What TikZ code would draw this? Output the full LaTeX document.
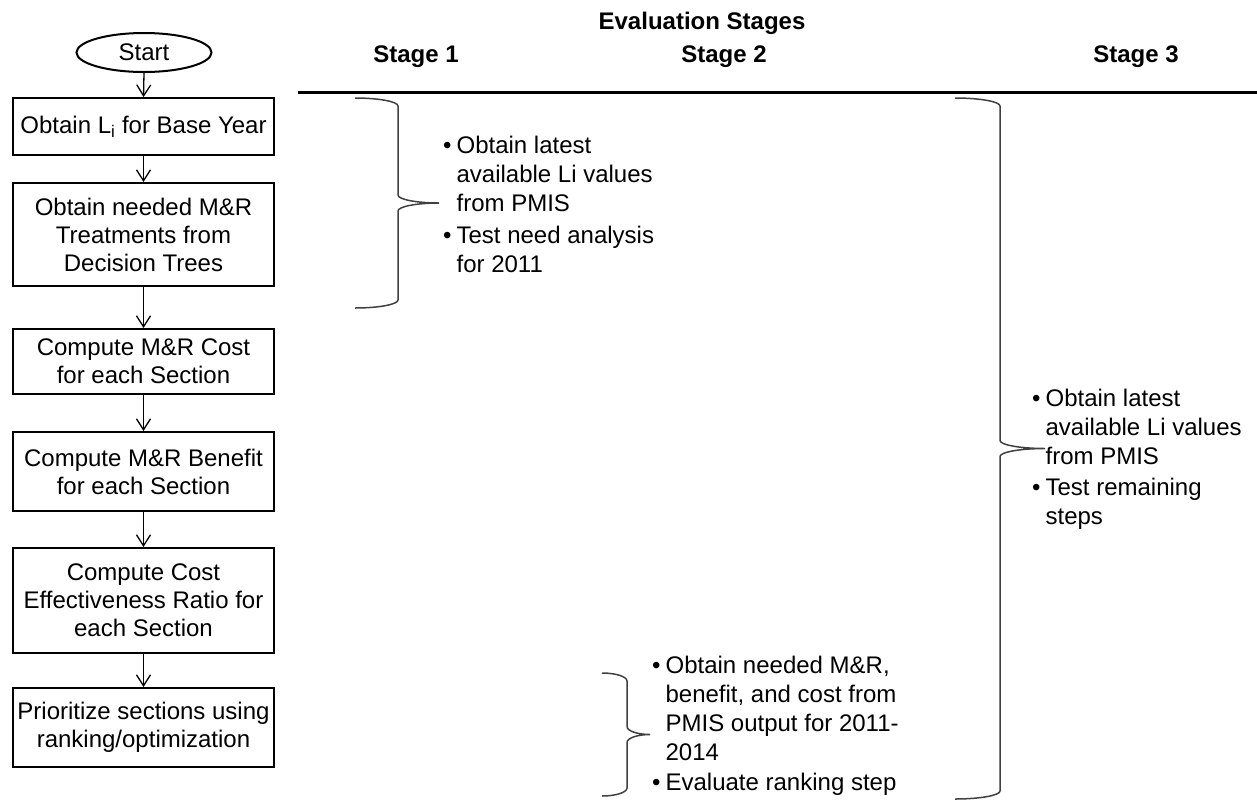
\documentclass[tikz,border=0pt]{standalone}
\usepackage{fontspec}
\setmainfont{Liberation Sans}
\usetikzlibrary{arrows.meta,shapes.geometric}
\newcommand\mybrace[6]{% x0 xs xt y0 y1 r
  \draw[bracestyle] (#1,#4) .. controls ({#1+0.55*(#2-#1)},#4) and (#2,{#4+0.45*#6}) .. (#2,{#4+#6})
    -- (#2,{(#4+#5)/2-#6})
    .. controls (#2,{(#4+#5)/2-0.45*#6}) and ({#3-0.55*(#3-#2)},{(#4+#5)/2}) .. (#3,{(#4+#5)/2})
    .. controls ({#3-0.55*(#3-#2)},{(#4+#5)/2}) and (#2,{(#4+#5)/2+0.45*#6}) .. (#2,{(#4+#5)/2+#6})
    -- (#2,{#5-#6})
    .. controls (#2,{#5-0.45*#6}) and ({#1+0.55*(#2-#1)},#5) .. (#1,#5);}
\begin{document}
\begin{tikzpicture}[x=1pt,y=-1pt,
  every node/.style={font=\fontsize{24}{28}\selectfont, inner sep=0pt},
  flowbox/.style={draw, line width=2pt, minimum width=261pt, align=center},
  startnode/.style={draw, ellipse, line width=2pt, minimum width=135pt, minimum height=39pt},
  flowarrow/.style={-{Straight Barb[length=11pt,width=14pt]}, line width=1.3pt},
  hdr/.style={font=\fontsize{24}{28}\selectfont\bfseries},
  bracestyle/.style={line width=1.5pt, black!75},
  note/.style={anchor=base west, font=\fontsize{24}{29}\selectfont}]
\useasboundingbox (0,0) rectangle (1257,801);

% flowchart
\node[startnode] (start) at (144,52.5) {Start};
\node[flowbox, minimum height=57pt] (b1) at (143.5,126.5) {Obtain L\textsubscript{i} for Base Year};
\node[flowbox, minimum height=103pt] (b2) at (143.5,234.5) {Obtain needed M\&R\\Treatments from\\Decision Trees};
\node[flowbox, minimum height=65pt] (b3) at (143.5,361.5) {Compute M\&R Cost\\for each Section};
\node[flowbox, minimum height=79pt] (b4) at (143.5,471.5) {Compute M\&R Benefit\\for each Section};
\node[flowbox, minimum height=105pt] (b5) at (143.5,600.5) {Compute Cost\\Effectiveness Ratio for\\each Section};
\node[flowbox, minimum height=79pt] (b6) at (143.5,727.5) {Prioritize sections using\\ranking/optimization};

\draw[flowarrow] (start.south) -- (b1.north);
\draw[flowarrow] (b1.south) -- (b2.north);
\draw[flowarrow] (b2.south) -- (b3.north);
\draw[flowarrow] (b3.south) -- (b4.north);
\draw[flowarrow] (b4.south) -- (b5.north);
\draw[flowarrow] (b5.south) -- (b6.north);

% headers
\node[hdr] (eval) at (702,23) {Evaluation Stages};
\node[hdr] (st1) at (416,57) {Stage 1};
\node[hdr] (st2) at (724,57) {Stage 2};
\node[hdr] (st3) at (1136,57) {Stage 3};
\coordinate (rulel) at (298,92);
\coordinate (ruler) at (1257,92);
\draw[line width=3pt] (rulel) -- (ruler);

% braces
\mybrace{355}{398}{439}{98}{308}{8}
\mybrace{602}{627}{650}{673}{796}{8}
\mybrace{955}{1000}{1045}{98}{799}{8}

% notes
\node[note] (n1) at (443,153) {\begin{tabular}[t]{@{}l@{\hspace{5pt}}l@{}}%
•&Obtain latest\\&available Li values\\&from PMIS\\[3pt]•&Test need analysis\\&for 2011\end{tabular}};
\node[note] (n2) at (652,673) {\begin{tabular}[t]{@{}l@{\hspace{5pt}}l@{}}%
•&Obtain needed M\&R,\\&benefit, and cost from\\&PMIS output for 2011-\\&2014\\[1pt]•&Evaluate ranking step\end{tabular}};
\node[note] (n3) at (1032,406) {\begin{tabular}[t]{@{}l@{\hspace{5pt}}l@{}}%
•&Obtain latest\\&available Li values\\&from PMIS\\[2pt]•&Test remaining\\&steps\end{tabular}};
\end{tikzpicture}
\end{document}
